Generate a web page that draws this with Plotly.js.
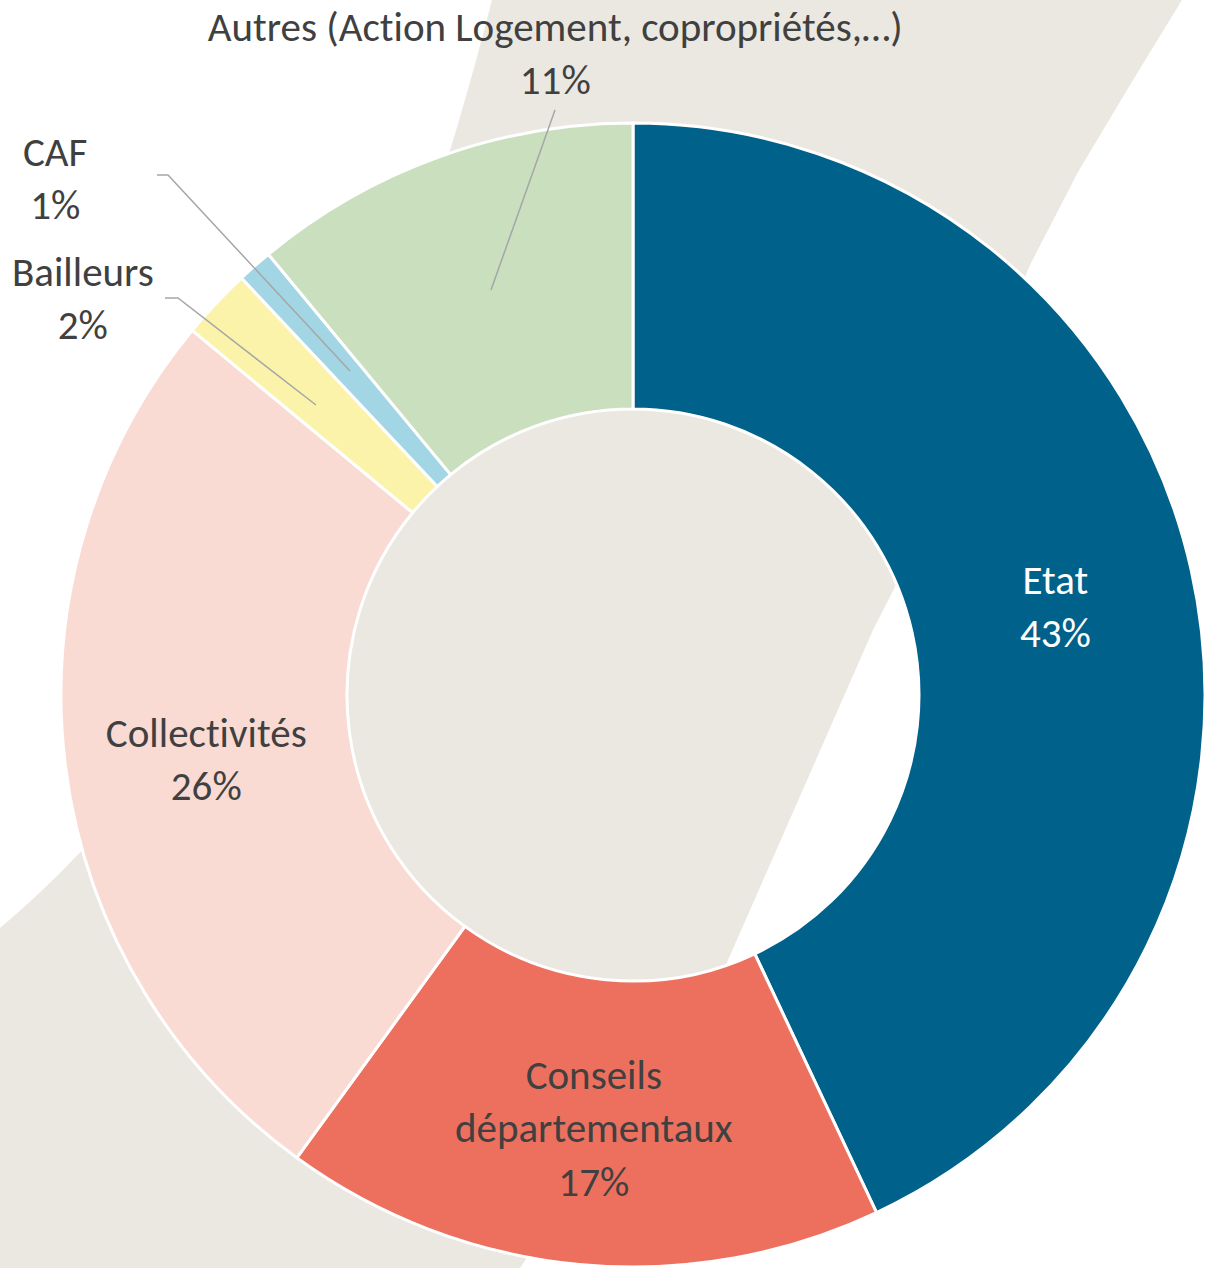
<!DOCTYPE html>
<html>
<head>
<meta charset="utf-8">
<script src="https://cdn.plot.ly/plotly-3.0.1.min.js"></script>
<style>
  html, body { margin: 0; padding: 0; background: #ffffff; }
  #chart { width: 1205px; height: 1268px; }
  #chart svg text { font-variant-ligatures: none; font-feature-settings: "liga" 0; }
</style>
</head>
<body>
<div id="chart"></div>
<script>
const labels = ["Etat", "Conseils<br>départementaux", "Collectivités", "Bailleurs", "CAF", "Autres (Action Logement, copropriétés,…)"];
const values = [43, 17, 26, 2, 1, 11];
const colors = ["#00618A", "#ED705F", "#FADBD4", "#FCF3AA", "#A3D6E4", "#C9DFBE"];
const textColors = ["#ffffff", "#404040", "#404040", "#404040", "#404040", "#404040"];

const W = 1205, H = 1268;
const FONT = "Carlito, Calibri, Lato, sans-serif";
const FS = 41;

// pixel -> paper helpers for the decoration
const px = x => x / W;
const py = y => 1 - y / H;
function pathOf(cmds) {
  return cmds.map(c => c[0] + " " + c.slice(1).reduce((s, v, i) =>
    s + (i % 2 === 0 ? px(v) : py(v)) + (i % 2 === 0 ? "," : " "), "")).join(" ") + " Z";
}

// beige background band
const band = pathOf([
  ["M", 492, 0], ["L", 1182, 0], ["L", 1130, 85], ["L", 1078, 172], ["L", 1030, 265],
  ["L", 897, 583], ["L", 873, 630], ["L", 725, 967], ["L", 520, 1268],
  ["L", 0, 1268], ["L", 0, 928], ["Q", 325, 655, 492, 0]
]);

function leader(pts) {
  return {
    type: "path", xref: "paper", yref: "paper", layer: "above",
    path: pts.map((p, i) => (i ? "L " : "M ") + px(p[0]) + "," + py(p[1])).join(" "),
    line: { color: "#A6A6A6", width: 1.5 }
  };
}

// label blocks: slice index, centre x, centre y (px)
const labelPos = [[0, 1055, 606], [1, 594, 1128], [2, 206, 759], [5, 555, 54], [4, 55, 178], [3, 83, 299]];

Plotly.newPlot("chart", [{
  type: "pie",
  labels: labels,
  values: values,
  hole: 0.5,
  sort: false,
  direction: "clockwise",
  rotation: 0,
  marker: { colors: colors, line: { color: "#ffffff", width: 3 } },
  textinfo: "none",
  hoverinfo: "none",
  domain: { x: [px(61), px(1205)], y: [py(1267), py(123)] }
}], {
  width: W,
  height: H,
  margin: { t: 0, l: 0, r: 0, b: 0 },
  paper_bgcolor: "#ffffff",
  showlegend: false,
  font: { family: FONT, size: FS, color: "#404040" },
  shapes: [
    { type: "path", xref: "paper", yref: "paper", layer: "below", path: band,
      fillcolor: "#EBE8E2", line: { width: 0 } },
    leader([[555, 110], [491, 290]]),
    leader([[157, 175], [168, 175], [350, 371]]),
    leader([[165, 298], [178, 298], [316, 405]])
  ],
  annotations: labelPos.map(o => ({
    xref: "paper", yref: "paper", x: px(o[1]), y: py(o[2]),
    xanchor: "center", yanchor: "middle", showarrow: false,
    text: labels[o[0]] + "<br>" + values[o[0]] + "%",
    font: { family: FONT, size: FS, color: textColors[o[0]] }
  }))
}, { displayModeBar: false, staticPlot: true });
</script>
</body>
</html>
